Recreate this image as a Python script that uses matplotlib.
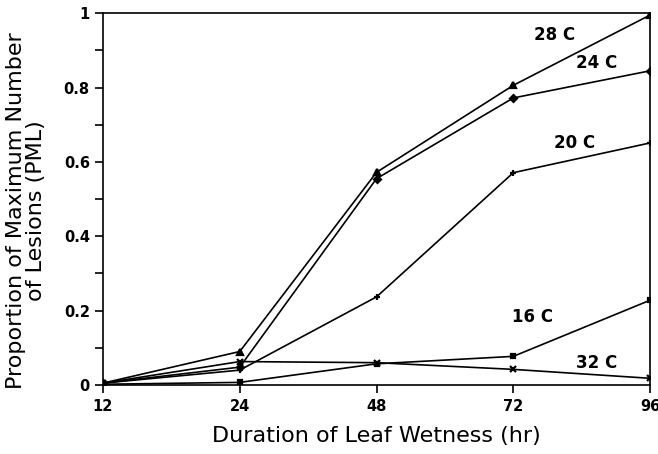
import matplotlib
matplotlib.use("Agg")
import matplotlib.pyplot as plt
import numpy as np

hours = ["12", "24", "48", "72", "96"]
temps = ["28 C", "24 C", "20 C", "16 C", "32 C"]
pml_28 = [0.005, 0.090, 0.572, 0.806, 0.995]
pml_24 = [0.005, 0.048, 0.555, 0.772, 0.845]
pml_20 = [0.005, 0.040, 0.237, 0.571, 0.651]
pml_16 = [0.002, 0.007, 0.057, 0.077, 0.228]
pml_32 = [0.005, 0.063, 0.060, 0.042, 0.018]
series = [pml_28, pml_24, pml_20, pml_16, pml_32]
markers = ["^", "D", "+", "s", "x"]
label_pos = [(3.30, 0.941), (3.61, 0.866), (3.45, 0.650), (3.14, 0.183), (3.61, 0.059)]

fig = plt.figure(figsize=(6.58, 4.54), dpi=100)
ax = fig.add_axes([0.1565, 0.152, 0.8315, 0.819])
x = np.arange(len(hours))
for vals, m in zip(series, markers):
    ms = 5 if m in ("^", "+", "x") else 3.5
    ax.plot(x, vals, color="black", lw=1.2, marker=m, ms=ms, mew=1.6)
for t, (lx, ly) in zip(temps, label_pos):
    ax.text(lx, ly, t, fontsize=12, ha="center", va="center", fontweight="semibold")

ax.set_xlim(0, 4)
ax.set_ylim(0, 1)
ax.set_xticks(x)
ax.set_xticklabels(hours, fontsize=10.5, fontweight="bold")
ax.set_yticks([0, 0.2, 0.4, 0.6, 0.8, 1.0])
ax.set_yticklabels(["0", "0.2", "0.4", "0.6", "0.8", "1"], fontsize=10.5, fontweight="bold")
ax.set_yticks(np.arange(0.1, 1.0, 0.2), minor=True)
ax.tick_params(axis="both", which="both", direction="out", length=6, width=1.2, colors="black")
ax.tick_params(axis="x", pad=4)
for s in ax.spines.values():
    s.set_linewidth(1.2)
ax.set_xlabel("Duration of Leaf Wetness (hr)", fontsize=16, labelpad=9)
ax.set_ylabel("Proportion of Maximum Number\nof Lesions (PML)", fontsize=16, linespacing=0.95)
ax.yaxis.set_label_coords(-0.105, 0.47)
fig.savefig("out.png", dpi=100)
